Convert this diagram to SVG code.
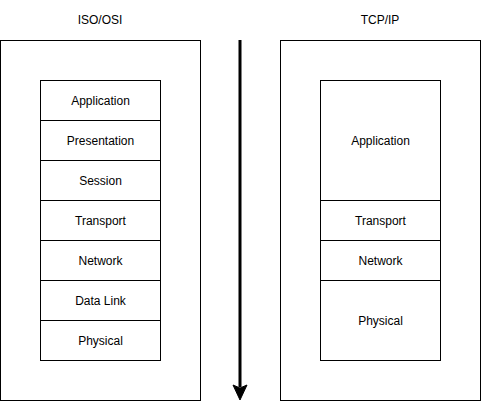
<svg xmlns="http://www.w3.org/2000/svg" width="481" height="410" viewBox="0 0 481 410">
<style>
.box{fill:#fff;stroke:#000;stroke-width:1}
.t{font-family:"Liberation Sans",Arial,sans-serif;font-size:12px;fill:#000;text-anchor:middle;dominant-baseline:central}
</style>
<rect width="481" height="410" fill="#fff"/>
<g id="iso-osi">
<rect class="box" x="0.5" y="40.5" width="200" height="360"/>
<text class="t" x="100" y="20">ISO/OSI</text>
</g>
<g id="tcp-ip">
<rect class="box" x="280.5" y="40.5" width="200" height="360"/>
<text class="t" x="380" y="20">TCP/IP</text>
</g>
<g id="osi-application"><rect class="box" x="40.5" y="80.5" width="120" height="40"/><text class="t" x="100.5" y="100.5">Application</text></g>
<g id="osi-presentation"><rect class="box" x="40.5" y="120.5" width="120" height="40"/><text class="t" x="100.5" y="140.5">Presentation</text></g>
<g id="osi-session"><rect class="box" x="40.5" y="160.5" width="120" height="40"/><text class="t" x="100.5" y="180.5">Session</text></g>
<g id="osi-transport"><rect class="box" x="40.5" y="200.5" width="120" height="40"/><text class="t" x="100.5" y="220.5">Transport</text></g>
<g id="osi-network"><rect class="box" x="40.5" y="240.5" width="120" height="40"/><text class="t" x="100.5" y="260.5">Network</text></g>
<g id="osi-datalink"><rect class="box" x="40.5" y="280.5" width="120" height="40"/><text class="t" x="100.5" y="300.5">Data Link</text></g>
<g id="osi-physical"><rect class="box" x="40.5" y="320.5" width="120" height="40"/><text class="t" x="100.5" y="340.5">Physical</text></g>
<g id="tcp-application"><rect class="box" x="320.5" y="80.5" width="120" height="120"/><text class="t" x="380.5" y="140.5">Application</text></g>
<g id="tcp-transport"><rect class="box" x="320.5" y="200.5" width="120" height="40"/><text class="t" x="380.5" y="220.5">Transport</text></g>
<g id="tcp-network"><rect class="box" x="320.5" y="240.5" width="120" height="40"/><text class="t" x="380.5" y="260.5">Network</text></g>
<g id="tcp-physical"><rect class="box" x="320.5" y="280.5" width="120" height="80"/><text class="t" x="380.5" y="320.5">Physical</text></g>
<g id="connectors">
<line x1="240" y1="40" x2="240" y2="387" stroke="#000" stroke-width="3"/>
<path d="M240 400 L233 385 L240 388 L247 385 Z" fill="#000" stroke="#000" stroke-width="1"/>
</g>
</svg>
